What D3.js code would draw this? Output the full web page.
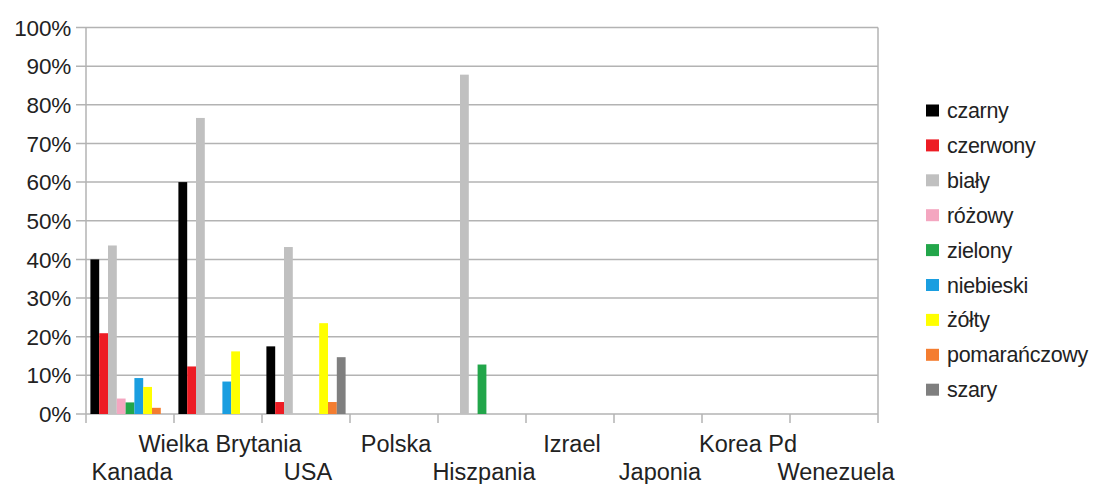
<!DOCTYPE html>
<html><head><meta charset="utf-8">
<script src="https://cdn.jsdelivr.net/npm/d3@7"></script>
<style>
body{margin:0;background:#fff;}
text{font-family:"Liberation Sans",Arial,sans-serif;fill:#222;}
</style></head>
<body><svg id="c" width="1107" height="484"></svg>
<script>
const categories = ["Kanada","Wielka Brytania","USA","Polska","Hiszpania","Izrael","Japonia","Korea Pd","Wenezuela"];
const seriesNames = ["czarny","czerwony","biały","różowy","zielony","niebieski","żółty","pomarańczowy","szary"];
const seriesColors = ["#000000","#ed1c24","#c0c0c0","#f4a6c0","#22a64a","#1a9ee0","#ffff00","#f47d30","#7f7f7f"];
// values per series, one per category (fractions)
const czarny       = [0.40, 0.60, 0.175, 0, 0, 0, 0, 0, 0];
const czerwony     = [0.209, 0.123, 0.031, 0, 0, 0, 0, 0, 0];
const bialy        = [0.436, 0.766, 0.432, 0, 0.878, 0, 0, 0, 0];
const rozowy       = [0.040, 0, 0, 0, 0, 0, 0, 0, 0];
const zielony      = [0.030, 0, 0, 0, 0.128, 0, 0, 0, 0];
const niebieski    = [0.093, 0.084, 0, 0, 0, 0, 0, 0, 0];
const zolty        = [0.070, 0.162, 0.235, 0, 0, 0, 0, 0, 0];
const pomaranczowy = [0.016, 0, 0.031, 0, 0, 0, 0, 0, 0];
const szary        = [0, 0, 0.147, 0, 0, 0, 0, 0, 0];
const yTicks = [0,0.1,0.2,0.3,0.4,0.5,0.6,0.7,0.8,0.9,1.0];

const seriesValues = [czarny,czerwony,bialy,rozowy,zielony,niebieski,zolty,pomaranczowy,szary];

const svg = d3.select("#c");
const pLeft = 86, pRight = 878, pTop = 27.5, pBottom = 414;
const x = d3.scaleBand().domain(categories).range([pLeft,pRight]).paddingInner(0).paddingOuter(0);
const xs = d3.scaleBand().domain(seriesNames).range([0,x.bandwidth()]).paddingInner(0).paddingOuter(0.5);
const y = d3.scaleLinear().domain([0,1]).range([pBottom,pTop]);
const gridColor = "#b3b3b3";

// gridlines
svg.append("g").selectAll("line").data(yTicks).join("line")
  .attr("x1",pLeft-10).attr("x2",pRight)
  .attr("y1",d=>y(d)).attr("y2",d=>y(d))
  .attr("stroke",gridColor).attr("stroke-width",1.5);

// y labels
svg.append("g").selectAll("text").data(yTicks).join("text")
  .attr("x",71).attr("y",d=>y(d)).attr("dy","0.36em")
  .attr("text-anchor","end").attr("font-size",22.5)
  .attr("letter-spacing","-0.2")
  .text(d3.format(".0%"));

// vertical axis lines
svg.append("line").attr("x1",pLeft).attr("x2",pLeft).attr("y1",pTop).attr("y2",pBottom+9)
  .attr("stroke",gridColor).attr("stroke-width",1.5);
svg.append("line").attr("x1",pRight).attr("x2",pRight).attr("y1",pTop).attr("y2",pBottom+9)
  .attr("stroke",gridColor).attr("stroke-width",1.5);
// category ticks
svg.append("g").selectAll("line").data(categories.slice(1)).join("line")
  .attr("x1",d=>x(d)).attr("x2",d=>x(d)).attr("y1",pBottom).attr("y2",pBottom+9)
  .attr("stroke",gridColor).attr("stroke-width",1.5);

// bars
const data = [];
categories.forEach((c,ci)=>seriesNames.forEach((s,si)=>data.push({c,s,si,v:seriesValues[si][ci]})));
svg.append("g").selectAll("rect").data(data.filter(d=>d.v>0)).join("rect")
  .attr("x",d=>x(d.c)+xs(d.s)).attr("width",xs.bandwidth())
  .attr("y",d=>y(d.v)).attr("height",d=>y(0)-y(d.v))
  .attr("fill",d=>seriesColors[d.si]);

// x labels
svg.append("g").selectAll("text").data(categories).join("text")
  .attr("x",d=>x(d)+x.bandwidth()/2+2)
  .attr("y",(d,i)=> i%2===0 ? 480 : 452)
  .attr("text-anchor","middle").attr("font-size",23.5)
  .text(d=>d);

// legend
const lg = svg.append("g").selectAll("g").data(seriesNames).join("g")
  .attr("transform",(d,i)=>`translate(926,${110.5+i*34.9})`);
lg.append("rect").attr("x",0).attr("y",-6).attr("width",13).attr("height",12)
  .attr("fill",(d,i)=>seriesColors[i]);
lg.append("text").attr("x",21).attr("y",0).attr("dy","0.35em")
  .attr("font-size",21.5).attr("letter-spacing","-0.3").text(d=>d);
</script></body></html>
